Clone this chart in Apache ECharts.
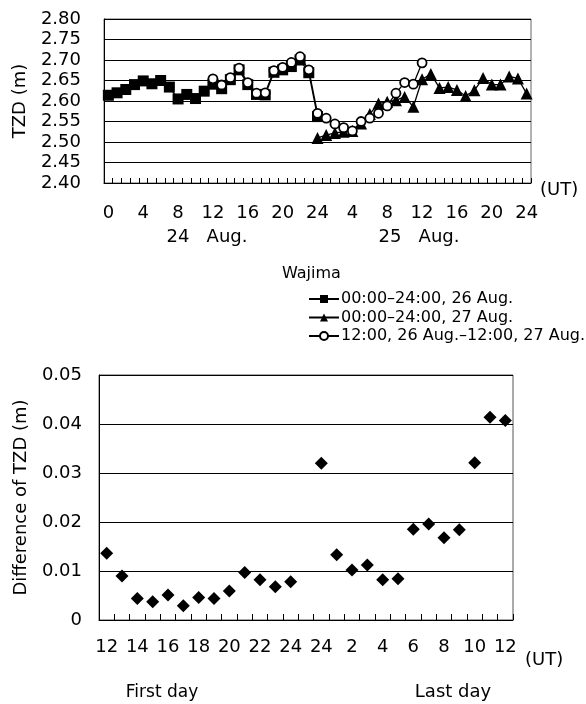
<!DOCTYPE html>
<html>
<head>
<meta charset="utf-8">
<script src="https://cdn.jsdelivr.net/npm/echarts@6/dist/echarts.min.js"></script>
<style>
  html, body { margin: 0; padding: 0; background: #fff; }
  #chart { width: 586px; height: 704px; }
</style>
</head>
<body>
<div id="chart"></div>
<script>
// Hour categories along the two-day TZD axis (24 Aug. 0 h .. 25 Aug. 24 h)
const hourLabels = ['0','1','2','3','4','5','6','7','8','9','10','11','12','13','14','15','16','17','18','19','20','21','22','23','24',
                    '1','2','3','4','5','6','7','8','9','10','11','12','13','14','15','16','17','18','19','20','21','22','23','24'];

// Estimated TZD (m) at Wajima for the three processing windows
const seriesNames = ['00:00\u201324:00, 26 Aug.', '00:00\u201324:00, 27 Aug.', '12:00, 26 Aug.\u201312:00, 27 Aug.'];
const squaresStart = 0;
const squaresTZD = [2.614, 2.620, 2.628, 2.640, 2.649, 2.642, 2.650, 2.634, 2.605, 2.616, 2.606, 2.624, 2.641,
                    2.630, 2.652, 2.676, 2.640, 2.616, 2.615, 2.670, 2.676, 2.684, 2.700, 2.669, 2.562];
const trianglesStart = 24;
const trianglesTZD = [2.510, 2.517, 2.522, 2.525, 2.527, 2.545, 2.568, 2.594, 2.598, 2.602, 2.610, 2.586, 2.653,
                      2.666, 2.632, 2.634, 2.627, 2.612, 2.626, 2.656, 2.640, 2.640, 2.660, 2.655, 2.618];
const circlesStart = 12;
const circlesTZD = [2.654, 2.639, 2.657, 2.680, 2.645, 2.619, 2.620, 2.674, 2.682, 2.694, 2.708, 2.676, 2.570,
                    2.558, 2.544, 2.535, 2.527, 2.550, 2.558, 2.570, 2.588, 2.619, 2.645, 2.641, 2.693];

// Difference of TZD (m): first day 12..24 UT, a blank slot, last day 24, 1..12 UT
const diffLabels = ['12','13','14','15','16','17','18','19','20','21','22','23','24','',
                    '24','1','2','3','4','5','6','7','8','9','10','11','12'];
const firstDayDiff = [0.0136, 0.0090, 0.0044, 0.0037, 0.0051, 0.0029, 0.0046, 0.0044, 0.0059, 0.0097, 0.0082, 0.0068, 0.0078];
const lastDayStart = 14;
const lastDayDiff = [0.0320, 0.0133, 0.0102, 0.0112, 0.0082, 0.0084, 0.0185, 0.0196, 0.0168, 0.0184, 0.0321, 0.0414, 0.0407];

const topTicks = { min: 2.40, max: 2.80, step: 0.05 };
const bottomTicks = { min: 0, max: 0.05, step: 0.01 };

function pairs(start, values) {
  return values.map((v, i) => [start + i, v]);
}

const FONT = 'DejaVu Sans';
const black = '#000';
const font = size => size + 'px "DejaVu Sans"';

const chart = echarts.init(document.getElementById('chart'), null, { renderer: 'canvas' });

const baseLine = {
  type: 'line',
  xAxisIndex: 0,
  yAxisIndex: 0,
  showSymbol: true,
  showAllSymbol: true,
  lineStyle: { color: black, width: 1.3 },
  emphasis: { disabled: true }
};

chart.setOption({
  animation: false,
  backgroundColor: '#fff',
  textStyle: { fontFamily: FONT, color: black },
  grid: [
    { left: 104, top: 19, width: 427, height: 164, show: true, borderColor: '#666', borderWidth: 1 },
    { left: 99, top: 375, width: 414, height: 245, show: true, borderColor: '#555', borderWidth: 1 }
  ],
  xAxis: [
    {
      type: 'category', gridIndex: 0, data: hourLabels, boundaryGap: true,
      axisLine: { lineStyle: { color: black, width: 1 } },
      axisTick: { show: true, inside: true, length: 5, interval: 0, lineStyle: { color: black } },
      axisLabel: { interval: 3, margin: 21, fontSize: 18, color: black, fontFamily: FONT },
      splitLine: { show: false }
    },
    {
      type: 'category', gridIndex: 1, data: diffLabels, boundaryGap: true,
      axisLine: { lineStyle: { color: black, width: 1 } },
      axisTick: { show: true, inside: true, length: 6, interval: 0, lineStyle: { color: black } },
      axisLabel: { interval: 1, margin: 18, fontSize: 18, color: black, fontFamily: FONT },
      splitLine: { show: false }
    }
  ],
  yAxis: [
    {
      type: 'value', gridIndex: 0,
      min: topTicks.min, max: topTicks.max, interval: topTicks.step,
      name: 'TZD (m)', nameLocation: 'middle', nameGap: 75,
      nameTextStyle: { fontSize: 18, color: black, fontFamily: FONT },
      axisLine: { show: true, lineStyle: { color: black } },
      axisTick: { show: false },
      axisLabel: { margin: 23, fontSize: 18, color: black, fontFamily: FONT, formatter: v => v.toFixed(2) },
      splitLine: { show: true, lineStyle: { color: black, width: 1 } }
    },
    {
      type: 'value', gridIndex: 1,
      min: bottomTicks.min, max: bottomTicks.max, interval: bottomTicks.step,
      name: 'Difference of TZD (m)', nameLocation: 'middle', nameGap: 69,
      nameTextStyle: { fontSize: 18, color: black, fontFamily: FONT },
      axisLine: { show: true, lineStyle: { color: black } },
      axisTick: { show: false },
      axisLabel: { margin: 17, fontSize: 18, color: black, fontFamily: FONT,
                   formatter: v => (v === 0 ? '0' : v.toFixed(2)) },
      splitLine: { show: true, lineStyle: { color: black, width: 1 } }
    }
  ],
  legend: {
    data: seriesNames,
    orient: 'vertical',
    left: 303, top: 286,
    itemWidth: 30, itemHeight: 10, itemGap: 2.5,
    textStyle: { fontSize: 16, color: black, fontFamily: FONT, padding: [0, 0, 0, -3] },
    selectedMode: false
  },
  series: [
    Object.assign({}, baseLine, {
      name: seriesNames[0], data: pairs(squaresStart, squaresTZD),
      symbol: 'rect', symbolSize: 11, itemStyle: { color: black }, z: 2
    }),
    Object.assign({}, baseLine, {
      name: seriesNames[1], data: pairs(trianglesStart, trianglesTZD),
      symbol: 'triangle', symbolSize: 12, itemStyle: { color: black }, z: 3
    }),
    Object.assign({}, baseLine, {
      name: seriesNames[2], data: pairs(circlesStart, circlesTZD),
      symbol: 'circle', symbolSize: 9,
      itemStyle: { color: '#fff', borderColor: black, borderWidth: 1.8 }, z: 4
    }),
    {
      type: 'scatter', xAxisIndex: 1, yAxisIndex: 1,
      data: pairs(0, firstDayDiff).concat(pairs(lastDayStart, lastDayDiff)),
      symbol: 'diamond', symbolSize: 13,
      itemStyle: { color: black, opacity: 1 },
      emphasis: { disabled: true }
    }
  ],
  graphic: [
    { type: 'text', left: 282, top: 266, style: { text: 'Wajima', font: font(16), fill: black } },
    { type: 'text', left: 540, top: 181, style: { text: '(UT)', font: font(18), fill: black } },
    { type: 'text', x: 207, y: 237, style: { text: '24   Aug.', font: font(18), fill: black, align: 'center', verticalAlign: 'middle' } },
    { type: 'text', x: 419, y: 237, style: { text: '25   Aug.', font: font(18), fill: black, align: 'center', verticalAlign: 'middle' } },
    { type: 'text', left: 525, top: 651, style: { text: '(UT)', font: font(18), fill: black } },
    { type: 'text', x: 162, y: 693, style: { text: 'First day', font: font(17), fill: black, align: 'center', verticalAlign: 'middle' } },
    { type: 'text', x: 453, y: 692, style: { text: 'Last day', font: font(18), fill: black, align: 'center', verticalAlign: 'middle' } }
  ]
});
</script>
</body>
</html>
